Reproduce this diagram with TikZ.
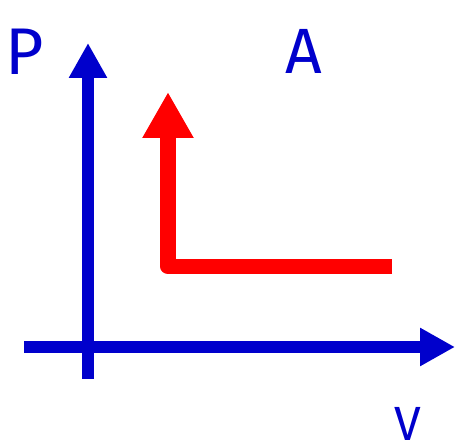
\documentclass[tikz,border=0pt]{standalone}
\usepackage{fontspec}
\setmainfont{Fira Sans}
\usetikzlibrary{arrows.meta}
\definecolor{axisblue}{RGB}{0,0,204}
\definecolor{pathred}{RGB}{255,0,0}
\tikzset{
  axis/.style={draw=axisblue, line width=12pt, -{Triangle[length=35pt,width=36pt]}},
  process/.style={draw=pathred, line width=15.5pt, line join=round, -{Triangle[length=46pt,width=48pt]}},
  lbl/.style={text=axisblue, inner sep=0pt, anchor=base, text depth=0pt}
}
\begin{document}
\begin{tikzpicture}[x=1pt,y=-1pt]
\useasboundingbox (0,0) rectangle (456,446);
\coordinate (yb) at (88,379);
\coordinate (yt) at (88,43);
\coordinate (xl) at (24,347);
\coordinate (xr) at (455,347);
\coordinate (r1) at (392,266.5);
\coordinate (r2) at (168,266.5);
\coordinate (r3) at (168,92);
\draw[axis] (yb) -- (yt);
\draw[axis] (xl) -- (xr);
\draw[process] (r1) -- (r2) -- (r3);
\node[lbl, font=\fontsize{66}{70}\selectfont] (P) at (25,75) {P};
\node[lbl, font=\fontsize{64}{70}\selectfont] (A) at (303.5,74) {A};
\node[lbl, font=\fontsize{48}{55}\selectfont] (V) at (407.5,441) {V};
\end{tikzpicture}
\end{document}
